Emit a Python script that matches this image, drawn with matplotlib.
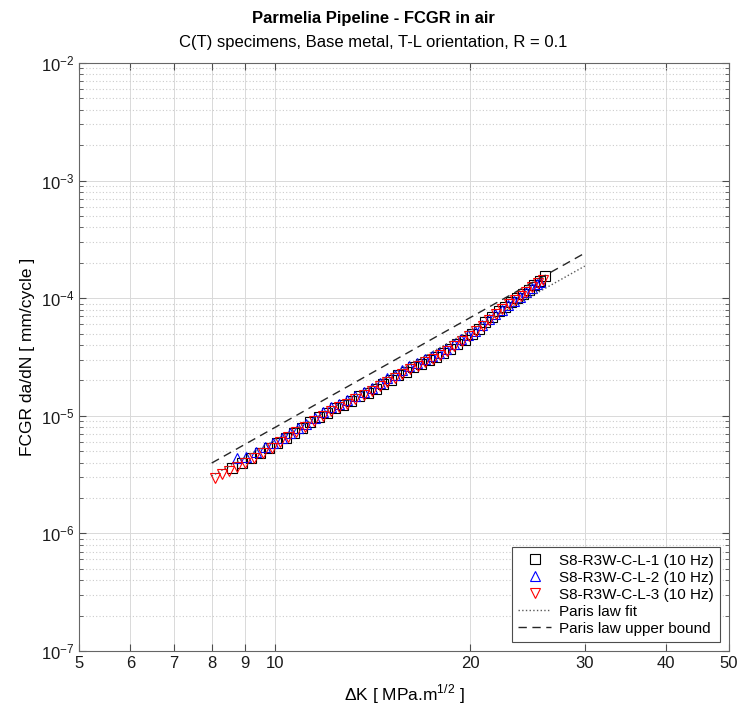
import numpy as np
import matplotlib.pyplot as plt
from matplotlib.ticker import FixedLocator, FixedFormatter, LogLocator, NullFormatter

plt.rcParams['font.family'] = ['Liberation Sans', 'DejaVu Sans']
plt.rcParams['mathtext.fontset'] = 'custom'
plt.rcParams['mathtext.rm'] = 'Liberation Sans'

# specimen S8-R3W-C-L-1 (dK in MPa.m^1/2, da/dN in 1e-6 mm/cycle)
dk_1 = [8.6, 8.9, 9.2, 9.5, 9.8, 10.1, 10.4, 10.7, 11.0, 11.35, 11.7, 12.05, 12.4, 12.75,
        13.1, 13.5, 13.9, 14.3, 14.7, 15.1, 15.5, 15.9, 16.35, 16.8, 17.25, 17.7, 18.15,
        18.6, 19.1, 19.6, 20.1, 20.6, 21.1, 21.6, 22.1, 22.6, 23.1, 23.6, 24.1, 24.6,
        25.1, 25.6, 26.1]
da_1 = [3.6, 4.0, 4.4, 4.8, 5.3, 5.9, 6.5, 7.2, 7.8, 8.8, 9.7, 10.6, 11.6, 12.4,
        13.3, 14.6, 15.6, 17.0, 18.8, 20.3, 22.2, 23.8, 26.0, 27.5, 29.8, 31.4, 34.2,
        36.8, 41.0, 44.2, 49.5, 55.0, 62.5, 69.0, 77.8, 84.0, 92.5, 99.5, 109.0, 118.0,
        130.0, 140.0, 153.0]

# specimen S8-R3W-C-L-2
dk_2 = [8.75, 9.05, 9.35, 9.65, 9.95, 10.25, 10.55, 10.85, 11.18, 11.52, 11.88, 12.22,
        12.58, 12.92, 13.3, 13.7, 14.1, 14.5, 14.9, 15.3, 15.7, 16.12, 16.58, 17.02,
        17.48, 17.92, 18.38, 18.85, 19.35, 19.85, 20.35, 20.85, 21.35, 21.85, 22.35,
        22.85, 23.35, 23.85, 24.35, 24.85, 25.35, 25.6]
da_2 = [4.4, 4.5, 4.9, 5.4, 5.9, 6.5, 7.1, 7.8, 8.6, 9.6, 10.7, 11.8,
        12.7, 13.6, 14.8, 15.9, 17.4, 19.0, 20.8, 22.4, 24.5, 26.4, 28.2, 30.3,
        32.0, 34.1, 36.8, 40.5, 44.8, 48.5, 53.0, 59.5, 66.0, 74.0, 80.0,
        87.0, 94.0, 103.0, 112.0, 121.0, 131.0, 136.0]

# specimen S8-R3W-C-L-3
dk_3 = [8.1, 8.3, 8.5, 8.75, 9.0, 9.3, 9.6, 9.9, 10.2, 10.5, 10.8, 11.15, 11.5, 11.85,
        12.2, 12.55, 12.9, 13.3, 13.7, 14.1, 14.5, 14.9, 15.3, 15.7, 16.15, 16.6, 17.05,
        17.5, 17.95, 18.4, 18.9, 19.4, 19.9, 20.4, 20.9, 21.4, 21.9, 22.4, 22.9, 23.4,
        23.9, 24.4, 24.9, 25.4, 25.9]
da_3 = [2.95, 3.2, 3.42, 3.7, 4.0, 4.4, 4.85, 5.35, 5.95, 6.6, 7.25, 8.1, 9.0, 10.0,
        10.9, 11.8, 12.7, 13.8, 15.0, 16.4, 17.8, 19.4, 21.0, 22.8, 24.8, 26.7, 28.6,
        30.5, 32.8, 35.6, 39.0, 43.0, 47.5, 52.5, 58.5, 65.5, 73.5, 81.0, 88.5, 96.5,
        105.0, 114.0, 124.0, 134.0, 143.0]

labels = ['S8-R3W-C-L-1 (10 Hz)', 'S8-R3W-C-L-2 (10 Hz)', 'S8-R3W-C-L-3 (10 Hz)']

# Paris law da/dN = C * dK^m
paris_m = 3.11
paris_c_fit = 4.78e-9
paris_c_upper = 6.16e-9
paris_range = [8, 30]

x_ticks = [5, 6, 7, 8, 9, 10, 20, 30, 40, 50]

fig = plt.figure(figsize=(7.39, 7.13), dpi=100)
ax = fig.add_axes([79 / 739, 1 - 651 / 713, 650 / 739, 588 / 713])

ax.set_xscale('log')
ax.set_yscale('log')

ax.plot(dk_1, np.array(da_1) * 1e-6, 's', mfc='none', mec='k', ms=7, mew=0.8, label=labels[0])
ax.plot(dk_2, np.array(da_2) * 1e-6, '^', mfc='none', mec='b', ms=7.5, mew=0.8, label=labels[1])
ax.plot(dk_3, np.array(da_3) * 1e-6, 'v', mfc='none', mec='r', ms=7.5, mew=0.8, label=labels[2])

dk_line = np.array(paris_range, dtype=float)
ax.plot(dk_line, paris_c_fit * dk_line ** paris_m, ':', color='0.35', lw=1.0, label='Paris law fit')
ax.plot(dk_line, paris_c_upper * dk_line ** paris_m, '--', color='0.15', lw=1.0,
        dashes=(6, 4), label='Paris law upper bound')

ax.set_xlim(5, 50)
ax.set_ylim(1e-7, 1e-2)

ax.xaxis.set_major_locator(FixedLocator(x_ticks))
ax.xaxis.set_major_formatter(FixedFormatter([str(t) for t in x_ticks]))
ax.xaxis.set_minor_locator(FixedLocator([]))
ax.yaxis.set_major_locator(LogLocator(base=10, numticks=10))
ax.yaxis.set_minor_locator(LogLocator(base=10, subs=np.arange(2, 10), numticks=20))
ax.yaxis.set_minor_formatter(NullFormatter())

ax.grid(True, which='major', color='0.85', lw=0.7, ls='-')
ax.grid(True, which='minor', axis='y', color='0.8', lw=0.8, ls=(0, (1, 2)))
ax.set_axisbelow(True)

ax.tick_params(which='both', direction='in', top=True, right=True, colors='0.3',
               labelcolor='0.1', labelsize=12)
ax.tick_params(which='major', length=5)
ax.tick_params(which='minor', length=3)
for s in ax.spines.values():
    s.set_color('0.4')
    s.set_linewidth(0.8)

ax.set_xlabel(r'$\Delta$K [ MPa.m$^{1/2}$ ]', fontsize=12.5, labelpad=8)
ax.set_ylabel('FCGR da/dN [ mm/cycle ]', fontsize=12.5, labelpad=4)

fig.text(0.5 + 4 / 739, 1 - 18 / 713, 'Parmelia Pipeline - FCGR in air', ha='center', va='center',
         fontsize=12, fontweight='bold')
fig.text(0.5 + 4 / 739, 1 - 42 / 713, 'C(T) specimens, Base metal, T-L orientation, R = 0.1',
         ha='center', va='center', fontsize=12)

leg = ax.legend(loc='lower right', fontsize=11, frameon=True, fancybox=False,
                edgecolor='0.3', framealpha=1, borderaxespad=0.6, handlelength=2.2,
                labelspacing=0.2, borderpad=0.4, handletextpad=0.5)
leg.get_frame().set_linewidth(0.8)

fig.savefig('out.png', dpi=100)
